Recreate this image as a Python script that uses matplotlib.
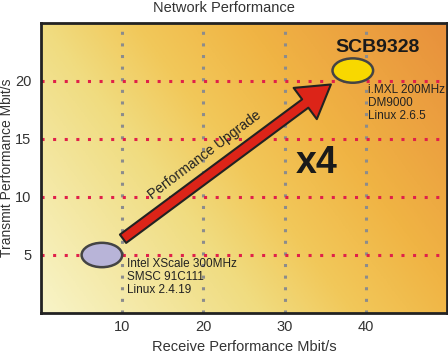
import numpy as np
import matplotlib.pyplot as plt
from matplotlib.colors import LinearSegmentedColormap
from matplotlib.patches import Ellipse, FancyArrowPatch

plt.rcParams['font.family'] = ['Liberation Sans', 'DejaVu Sans']

# data
xticks = [10, 20, 30, 40]
yticks = [5, 10, 15, 20]
boards = ["old", "new"]
rx = [7.5, 38.4]          # receive Mbit/s
tx = [5.0, 20.9]          # transmit Mbit/s
fills = ["#b8b4d8", "#f8d800"]
old_info = "Intel XScale 300MHz\nSMSC 91C111\nLinux 2.4.19"
new_info = "i.MXL 200MHz\nDM9000\nLinux 2.6.5"

fig = plt.figure(figsize=(4.48, 3.53), dpi=100)
ax = fig.add_axes([41/448, 1-313/353, 406/448, 290/353])
ax.set_xlim(0, 50)
ax.set_ylim(0, 25)

# diagonal background gradient
cmap = LinearSegmentedColormap.from_list("bg", [(0, "#f8f4c8"), (0.35, "#f0dc80"), (0.5, "#f2c85a"),
                                                (0.68, "#f0b444"), (1, "#e8903c")])
gx, gy = np.meshgrid(np.linspace(0, 1, 300), np.linspace(0, 1, 300))
ax.imshow(0.65*gx + 0.35*gy, extent=[0, 50, 0, 25], origin="lower", aspect="auto",
          cmap=cmap, vmin=0, vmax=1, zorder=0)

for x in xticks:
    ax.plot([x, x], [0, 25], color="#8c8c8c", lw=2.2, ls=(0, (1, 2.8)), zorder=1)
for y in yticks:
    ax.plot([0, 50], [y, y], color="#e0204a", lw=2.2, ls=(0, (1, 2.8)), zorder=1)

for i in range(len(boards)):
    ax.add_patch(Ellipse((rx[i], tx[i]), 5.0, 2.1, facecolor=fills[i], edgecolor="#444444", lw=1.8, zorder=3))

arrow = FancyArrowPatch((10.1, 6.4), (35.7, 19.7),
                        arrowstyle="simple,head_width=2.8,head_length=2.3,tail_width=0.75",
                        mutation_scale=10, shrinkA=0, shrinkB=0,
                        facecolor="#dc2418", edgecolor="#222222", lw=1.5, zorder=4)
ax.add_patch(arrow)

ax.text(20.2, 13.6, "Performance Upgrade", rotation=37, ha="center", va="center", fontsize=10, color="#222222", zorder=5)
ax.text(33.9, 12.9, "x4", ha="center", va="center", fontsize=27, fontweight="bold", color="#1a1a1a", zorder=5)
ax.text(41.4, 22.9, "SCB9328", ha="center", va="center", fontsize=14, fontweight="bold", color="#1a1a1a", zorder=5)
ax.text(40.3, 19.7, new_info, ha="left", va="top", fontsize=8.5, color="#222222", linespacing=1.1, zorder=5)
ax.text(10.6, 4.75, old_info, ha="left", va="top", fontsize=8.5, color="#222222", linespacing=1.1, zorder=5)

ax.set_xticks(xticks)
ax.set_yticks(yticks)
ax.tick_params(length=0, labelsize=10.5, labelcolor="#333333", pad=7)
ax.tick_params(axis="x", pad=5)
for s in ax.spines.values():
    s.set_linewidth(2)
    s.set_color("#222222")
ax.set_xlabel("Receive Performance Mbit/s", fontsize=10.5, color="#333333")
ax.xaxis.set_label_coords(0.5, -(340-313)/290)
ax.set_ylabel("Transmit Performance Mbit/s", fontsize=10, color="#333333", va="center")
ax.yaxis.set_label_coords(-(41-7)/406, 0.5)
fig.text(0.5, 1-8/353, "Network Performance", ha="center", va="center", fontsize=10.5, color="#333333")

fig.savefig("out.png", dpi=100)
